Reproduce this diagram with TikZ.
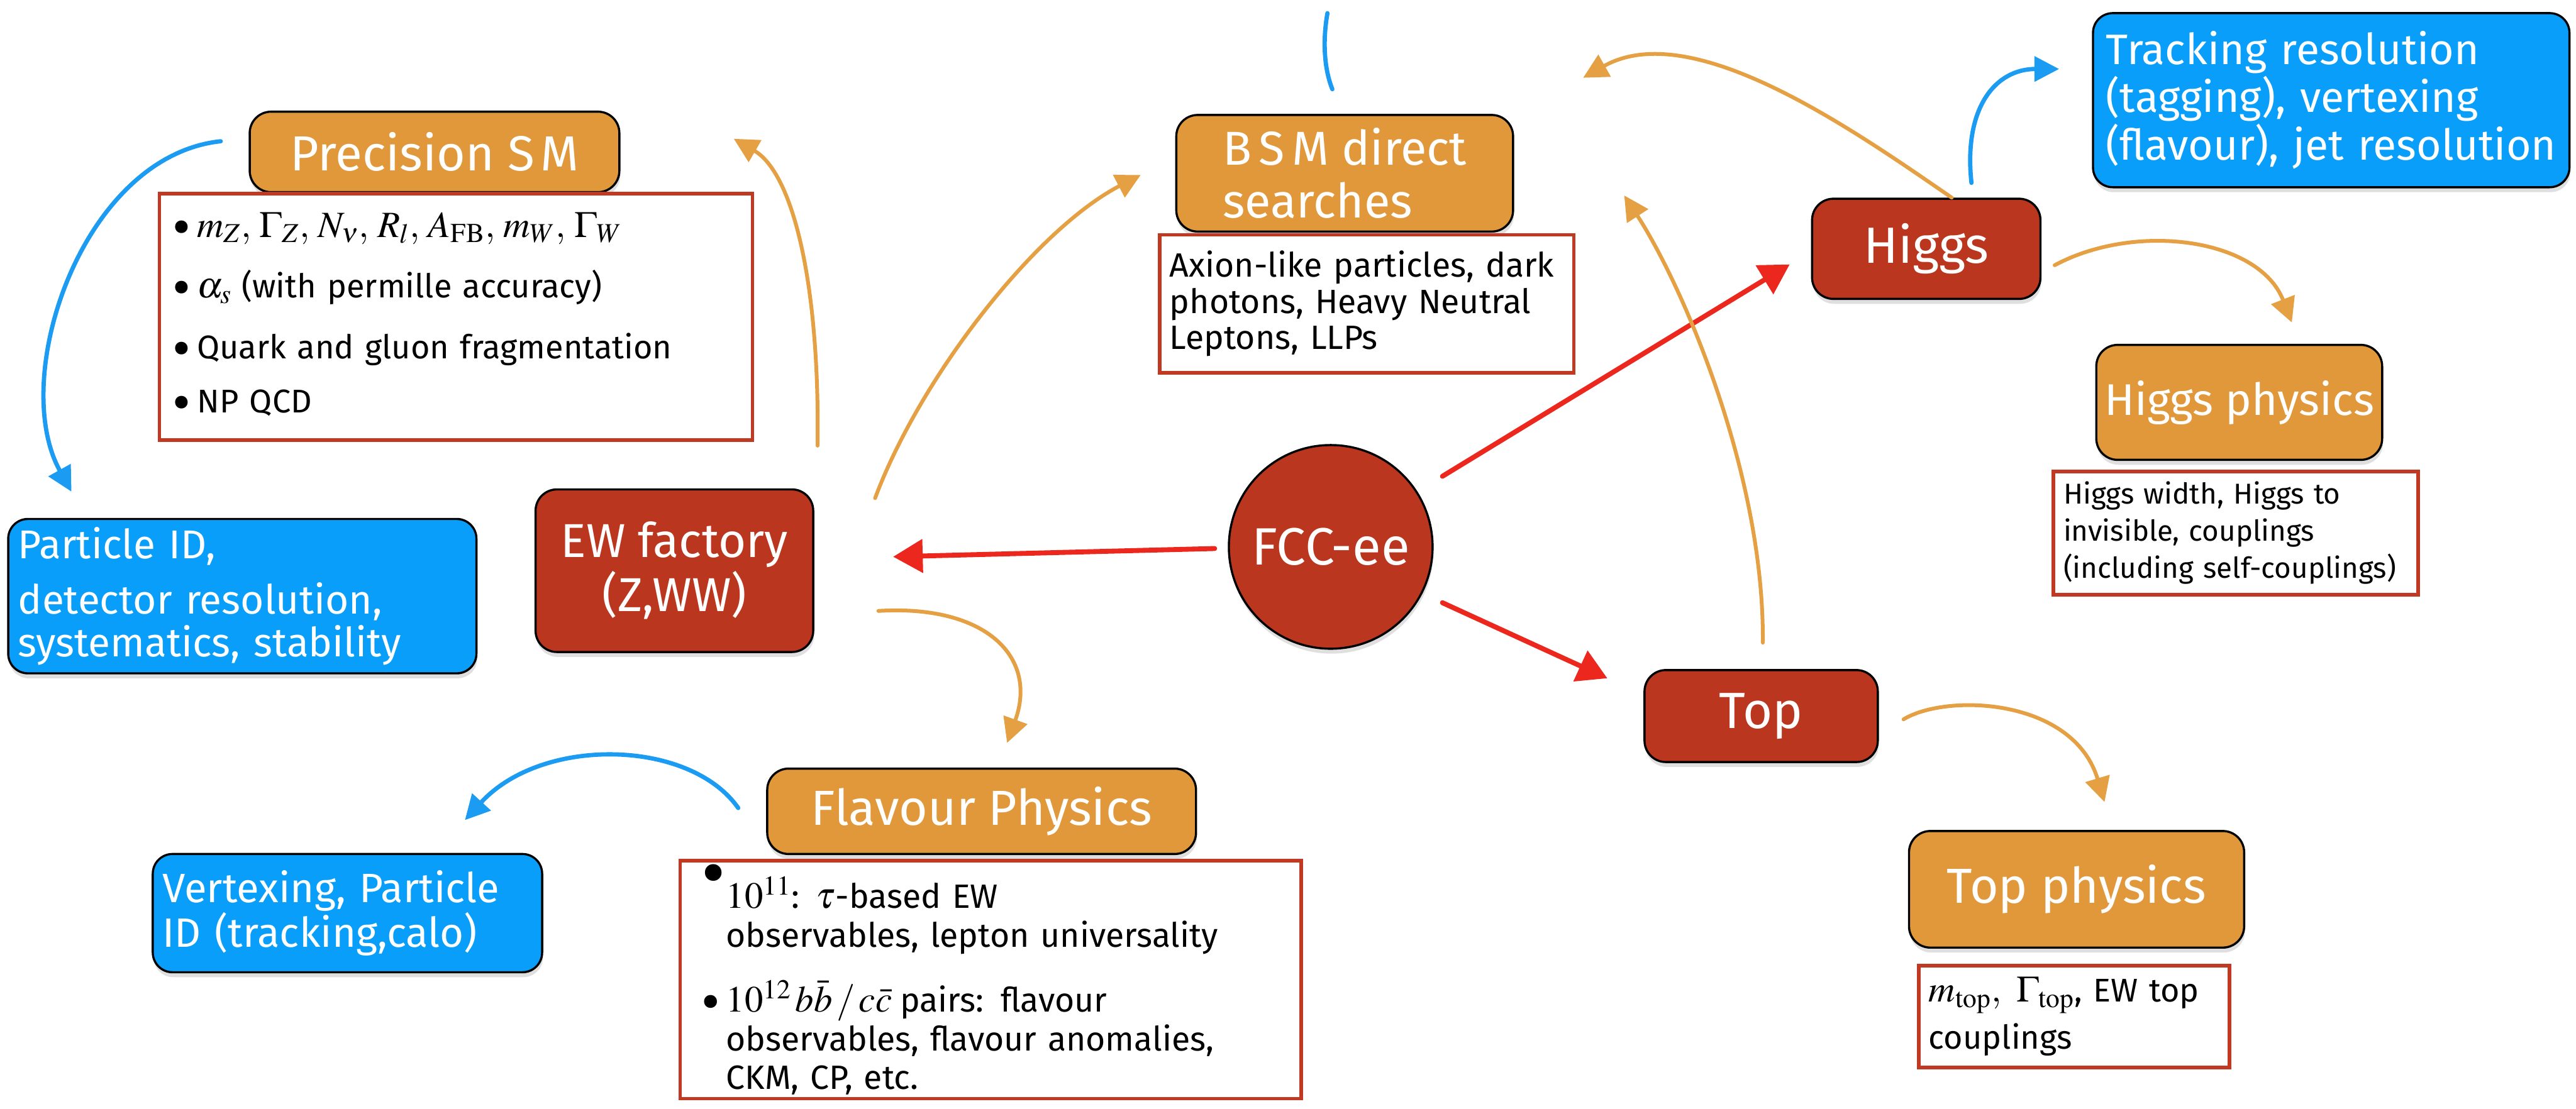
\documentclass[tikz,border=0pt]{standalone}
\usepackage{mathptmx}
\usepackage[no-math]{fontspec}
\setmainfont{Fira Sans}
\usetikzlibrary{calc,arrows.meta,shadows}
\definecolor{obox}{RGB}{224,152,58}
\definecolor{rbox}{RGB}{187,54,30}
\definecolor{bbox}{RGB}{8,158,250}
\definecolor{frame}{RGB}{192,57,35}
\definecolor{rline}{RGB}{236,40,30}
\definecolor{oline}{RGB}{229,160,67}
\definecolor{bline}{RGB}{27,156,242}
\newcommand\mth[1]{{\fontsize{22.5}{0}\selectfont\(#1\)}}
\newcommand\bul[1]{\makebox[#1][l]{\raisebox{-0.27em}{\scalebox{1.7}{\textbullet}}}}
\tikzset{
  base/.style={rounded corners=13pt, draw=black, line width=1.3pt, text=white, inner sep=0pt,
    drop shadow={opacity=0.25,shadow xshift=0.5pt,shadow yshift=-3pt}},
  obx/.style={base, fill=obox, font=\fontsize{30}{33}\selectfont},
  rbx/.style={base, fill=rbox, font=\fontsize{31}{34}\selectfont},
  bbx/.style={base, fill=bbox, rounded corners=12pt, align=left},
  ibx/.style={draw=frame, line width=2.2pt, fill=white, text=black, inner sep=0pt, align=left,
    font=\fontsize{20}{24}\selectfont},
  rarr/.style={draw=rline, line width=3pt, line cap=round, -{Triangle[length=18pt,width=20pt]}},
  oarr/.style={draw=oline, line width=2.3pt, line cap=round, -{Triangle[length=15pt,width=15pt]}},
  barr/.style={draw=bline, line width=2.6pt, line cap=round, -{Triangle[length=15pt,width=15pt]}},
}
\begin{document}
\begin{tikzpicture}[x=1pt,y=-1pt]
\fill[white] (0,0) rectangle (1568,675);
\useasboundingbox (0,0) rectangle (1568,675);

% ---------- nodes ----------
\node[obx, minimum width=225pt, minimum height=49pt] (psm) at (264.5,92.5) {Precision S\hspace{0.12em}M};
\node[ibx, minimum width=361pt, minimum height=150pt, inner xsep=8pt, text width=345pt] (psmt) at (277.5,193)
 {\bul{15pt}\mth{m_Z,\, \Gamma_Z,\, N_\nu,\, R_l,\, A_{\mathrm{FB}},\, m_W,\, \Gamma_W}\\[13pt]
  \bul{15pt}\mth{\alpha_s}\hspace{6pt}(with permille accuracy)\\[13pt]
  \bul{15pt}Quark and gluon fragmentation\\[9pt]
  \bul{15pt}NP QCD};

\node[bbx, minimum width=285pt, minimum height=94pt, inner xsep=6pt, text width=273pt,
  font=\fontsize{24.5}{26}\selectfont] (pid) at (147.5,363)
 {Particle ID,\\[8pt]detector resolution,\\systematics, stability};

\node[rbx, minimum width=169pt, minimum height=99pt, align=center, font=\fontsize{29}{33}\selectfont] (ew) at (410.5,347.5) {EW factory\\(Z,WW)};

\node[rbx, circle, minimum size=124pt, font=\fontsize{32}{34}\selectfont] (fcc) at (810,333) {FCC-ee};

\node[obx, minimum width=205pt, minimum height=71pt, align=left, font=\fontsize{29}{32}\selectfont] (bsm) at (818.5,105.5)
 {B\hspace{0.15em}S\hspace{0.15em}M direct\\searches};
\node[ibx, minimum width=252pt, minimum height=84pt, inner xsep=6pt, text width=240pt,
  font=\fontsize{20.5}{22}\selectfont] (bsmt) at (832,185)
 {Axion-like particles, dark\\photons, Heavy Neutral\\Leptons, LLPs};

\node[rbx, minimum width=139pt, minimum height=61pt] (higgs) at (1172.5,151.5) {Higgs};

\node[bbx, minimum width=290pt, minimum height=106pt, inner xsep=8pt, text width=274pt,
  font=\fontsize{26}{29}\selectfont] (track) at (1419,61)
 {Tracking resolution\\(tagging), vertexing\\(flavour), jet resolution};

\node[obx, minimum width=174pt, minimum height=70pt, font=\fontsize{27}{30}\selectfont] (hphys) at (1363,245) {Higgs physics};
\node[ibx, minimum width=218pt, minimum height=75pt, inner xsep=6pt, text width=210pt,
  font=\fontsize{17.5}{22.5}\selectfont] (hphyst) at (1361,324.5)
 {Higgs width, Higgs to\\invisible, couplings\\(including self-couplings)};

\node[rbx, minimum width=142pt, minimum height=56pt] (top) at (1072,436) {Top};

\node[obx, minimum width=204pt, minimum height=71pt] (tphys) at (1264,541.5) {Top physics};
\node[ibx, minimum width=189pt, minimum height=62pt, inner xsep=6pt, text width=177pt,
  font=\fontsize{20}{29}\selectfont] (tphyst) at (1262.5,619)
 {\mth{m_{\mathrm{top}},\ \Gamma_{\mathrm{top}}}, EW top\\couplings};

\node[obx, minimum width=261pt, minimum height=52pt] (flav) at (597.5,494) {Flavour Physics};
\node[ibx, minimum width=378pt, minimum height=145pt, inner xsep=13pt, text width=352pt,
  font=\fontsize{20.5}{23.5}\selectfont] (flavt) at (603,596.5)
 {\makebox[15pt][l]{\raisebox{0.3em}{\scalebox{2.2}{\textbullet}}}\mth{10^{11}}: \mth{\tau}-based EW\\
  \hspace*{15pt}observables, lepton universality\\[15pt]
  \bul{15pt}\mth{10^{12}\,b\bar{b}\,/\,c\bar{c}}\hspace{5pt}pairs: flavour\\
  \hspace*{15pt}observables, flavour anomalies,\\
  \hspace*{15pt}CKM, CP, etc.};

\node[bbx, minimum width=237pt, minimum height=72pt, inner xsep=6pt, text width=225pt,
  font=\fontsize{25}{27}\selectfont] (vert) at (211.5,556)
 {Vertexing, Particle\\ID (tracking,calo)};

% ---------- red arrows ----------
\draw[rarr] ($(fcc.west)+(-8,1)$) -- ($(ew.east)+(48,-8.5)$);
\draw[rarr] ($(fcc.center)+(68,-43)$) -- ($(higgs.west)+(-13,9.5)$);
\draw[rarr] ($(fcc.center)+(68,34)$) -- ($(top.west)+(-22,-23)$);

% ---------- orange arrows ----------
\draw[oarr] ($(ew.north east)+(2,-26)$) .. controls (499,170) and (482,105) .. ($(psm.east)+(69,-8)$);
\draw[oarr] ($(ew.north east)+(37,6)$) .. controls (560,230) and (630,140) .. ($(bsm.west)+(-21,1)$);
\draw[oarr] ($(ew.east)+(39,24.5)$) .. controls (600,368) and (632,400) .. ($(flav.north)+(15.5,-15)$);
\draw[oarr] ($(top.north)+(1,-16)$) .. controls (1074,290) and (1025,175) .. ($(bsm.east)+(67,13.5)$);
\draw[oarr] ($(higgs.north)+(15.5,0)$) .. controls (1128,79) and (1030,10) .. ($(bsm.north east)+(42,-22)$);
\draw[oarr] ($(higgs.east)+(8,10)$) .. controls (1300,135) and (1375,145) .. ($(hphys.north)+(32,-13)$);
\draw[oarr] ($(top.east)+(15,2)$) .. controls (1185,422) and (1262,425) .. ($(tphys.north)+(17,-17)$);

% ---------- blue arrows ----------
\draw[barr] ($(psm.west)+(-17,-6.5)$) .. controls (50,95) and (5,230) .. ($(pid.north)+(-104,-16)$);
\draw[barr] ($(higgs.north)+(27.5,-9)$) .. controls (1195,65) and (1215,42) .. ($(track.west)+(-20,-19)$);
\draw[barr] ($(flav.west)+(-17,-2)$) .. controls (420,450) and (330,448) .. ($(vert.north)+(71.5,-20)$);
\coordinate (stub) at (808,8);
\draw[draw=bline, line width=2.6pt, line cap=round] (stub) .. controls (805,25) and (806,42) .. ($(bsm.north)+(-7.5,-15)$);
\end{tikzpicture}
\end{document}
